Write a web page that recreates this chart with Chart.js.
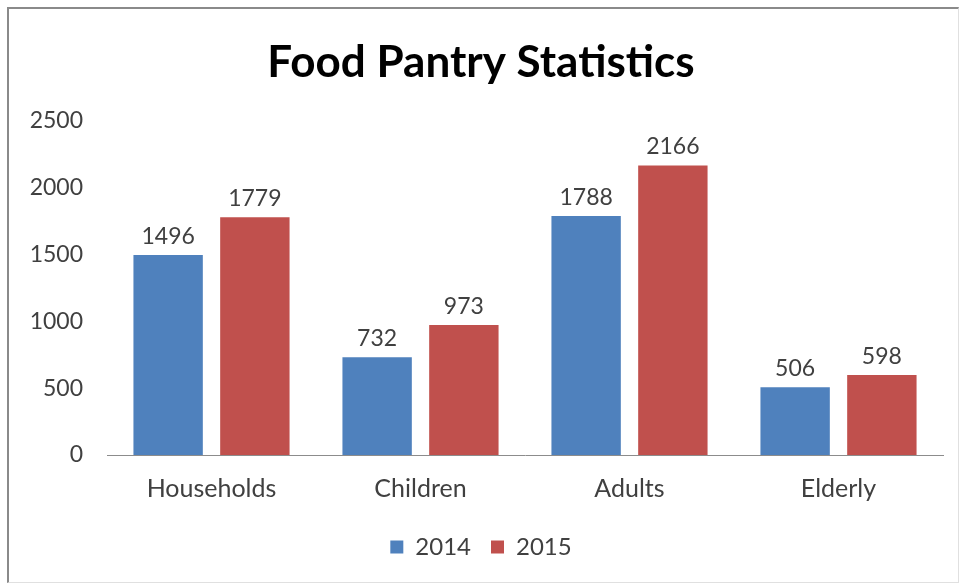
<!DOCTYPE html>
<html>
<head>
<meta charset="utf-8">
<script src="https://cdn.jsdelivr.net/npm/chart.js@4/dist/chart.umd.min.js"></script>
<style>
  html, body { margin: 0; padding: 0; background: #fff; }
  #frame {
    position: absolute; left: 7px; top: 7px; width: 949px; height: 573px;
    border-top: 2px solid #8a8a8a; border-left: 2px solid #8a8a8a;
    border-right: 1px solid #e0e0e0; border-bottom: 1px solid #e0e0e0;
  }
  #frame canvas { display: block; }
</style>
</head>
<body>
<div id="frame"><canvas id="chart" width="949" height="573"></canvas></div>
<script>
const categories = ["Households", "Children", "Adults", "Elderly"];
const values2014 = [1496, 732, 1788, 506];
const values2015 = [1779, 973, 2166, 598];
const yTicks = [0, 500, 1000, 1500, 2000, 2500];

const FONT = "Lato, 'Open Sans', sans-serif";

// draws the value above each bar
const barValues = {
  id: "barValues",
  afterDatasetsDraw(chart) {
    const ctx = chart.ctx;
    ctx.save();
    ctx.font = "23px " + FONT;
    ctx.fillStyle = "#404040";
    ctx.textAlign = "center";
    ctx.textBaseline = "bottom";
    chart.data.datasets.forEach((ds, i) => {
      chart.getDatasetMeta(i).data.forEach((bar, j) => {
        ctx.fillText(ds.data[j], bar.x, bar.y - 7);
      });
    });
    ctx.restore();
  }
};

new Chart(document.getElementById("chart"), {
  type: "bar",
  data: {
    labels: categories,
    datasets: [
      { label: "2014", data: values2014, backgroundColor: "#4f81bd" },
      { label: "2015", data: values2015, backgroundColor: "#c0504d" }
    ]
  },
  options: {
    responsive: false,
    animation: false,
    layout: { padding: { left: 10, right: 15, top: 0, bottom: 13 } },
    datasets: { bar: { categoryPercentage: 0.83, barPercentage: 0.8 } },
    plugins: {
      title: {
        display: true,
        text: "Food Pantry Statistics",
        color: "#000",
        font: { family: FONT, size: 44, weight: "bold" },
        padding: { top: 27, bottom: 32 }
      },
      legend: {
        position: "bottom",
        labels: {
          color: "#404040",
          font: { family: FONT, size: 24 },
          boxWidth: 13, boxHeight: 13, padding: 20
        }
      },
      tooltip: { enabled: false }
    },
    scales: {
      x: {
        grid: { display: false },
        border: { display: true, color: "#8c8c8c", width: 1 },
        ticks: { color: "#404040", font: { family: FONT, size: 25 }, padding: 11 }
      },
      y: {
        min: 0, max: 2500,
        afterBuildTicks(axis) { axis.ticks = yTicks.map(v => ({ value: v })); },
        afterFit(axis) { axis.width = 88; },
        grid: { display: false },
        border: { display: false },
        ticks: {
          color: "#404040", font: { family: FONT, size: 23 }, padding: 16,
          callback: v => String(v)
        }
      }
    }
  },
  plugins: [barValues]
});
</script>
</body>
</html>
